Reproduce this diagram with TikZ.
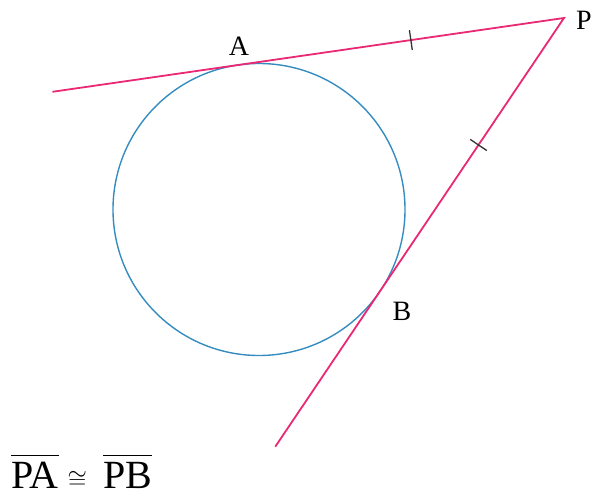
\documentclass[tikz,border=0pt]{standalone}
\usepackage{fontspec}
\setmainfont{Liberation Serif}
\usetikzlibrary{calc}
\definecolor{tanpink}{RGB}{234,40,116}
\definecolor{circblue}{RGB}{52,140,192}
\tikzset{
  tanline/.style={draw=tanpink, line width=1.8pt},
  circ/.style={circle, draw=circblue, line width=1.4pt, minimum size=292pt, inner sep=0pt, outer sep=0pt},
  ptlabel/.style={font=\fontsize{28}{28}\selectfont, inner sep=0pt},
  tickmark/.style={draw=black!80, line width=1.3pt}
}
\begin{document}
\begin{tikzpicture}[x=1pt,y=-1pt]
\useasboundingbox (0,0) rectangle (597,497);
\node[circ] (c) at (259,209.5) {};
\coordinate (P) at (564,18);
\coordinate (A) at (tangent cs:node=c,point={(P)},solution=2);
\coordinate (B) at (tangent cs:node=c,point={(P)},solution=1);
\coordinate (Aend) at ($(P)!1.57!(A)$);
\coordinate (Bend) at ($(P)!1.57!(B)$);
\draw[tanline] (Aend) -- (P) -- (Bend);
\coordinate (ta) at ($(P)!0.465!(A)$);
\coordinate (tb) at ($(P)!0.47!(B)$);
\draw[tickmark] ($(ta)!10pt!90:(P)$) -- ($(ta)!10pt!-90:(P)$);
\draw[tickmark] ($(tb)!10pt!90:(P)$) -- ($(tb)!10pt!-90:(P)$);
\node[ptlabel] (lP) at (584,20) {P};
\node[ptlabel] (lA) at (239,46) {A};
\node[ptlabel] (lB) at (402,311) {B};
\node[font=\fontsize{40}{40}\selectfont, inner sep=0pt, anchor=base west] (eq) at (11,488)
  {$\overline{\rule{0pt}{0.78em}\mbox{PA}}\hspace{9pt}\mbox{\fontsize{27}{27}\selectfont$\cong$}\hspace{16pt}\overline{\rule{0pt}{0.78em}\mbox{PB}}$};
\end{tikzpicture}
\end{document}
